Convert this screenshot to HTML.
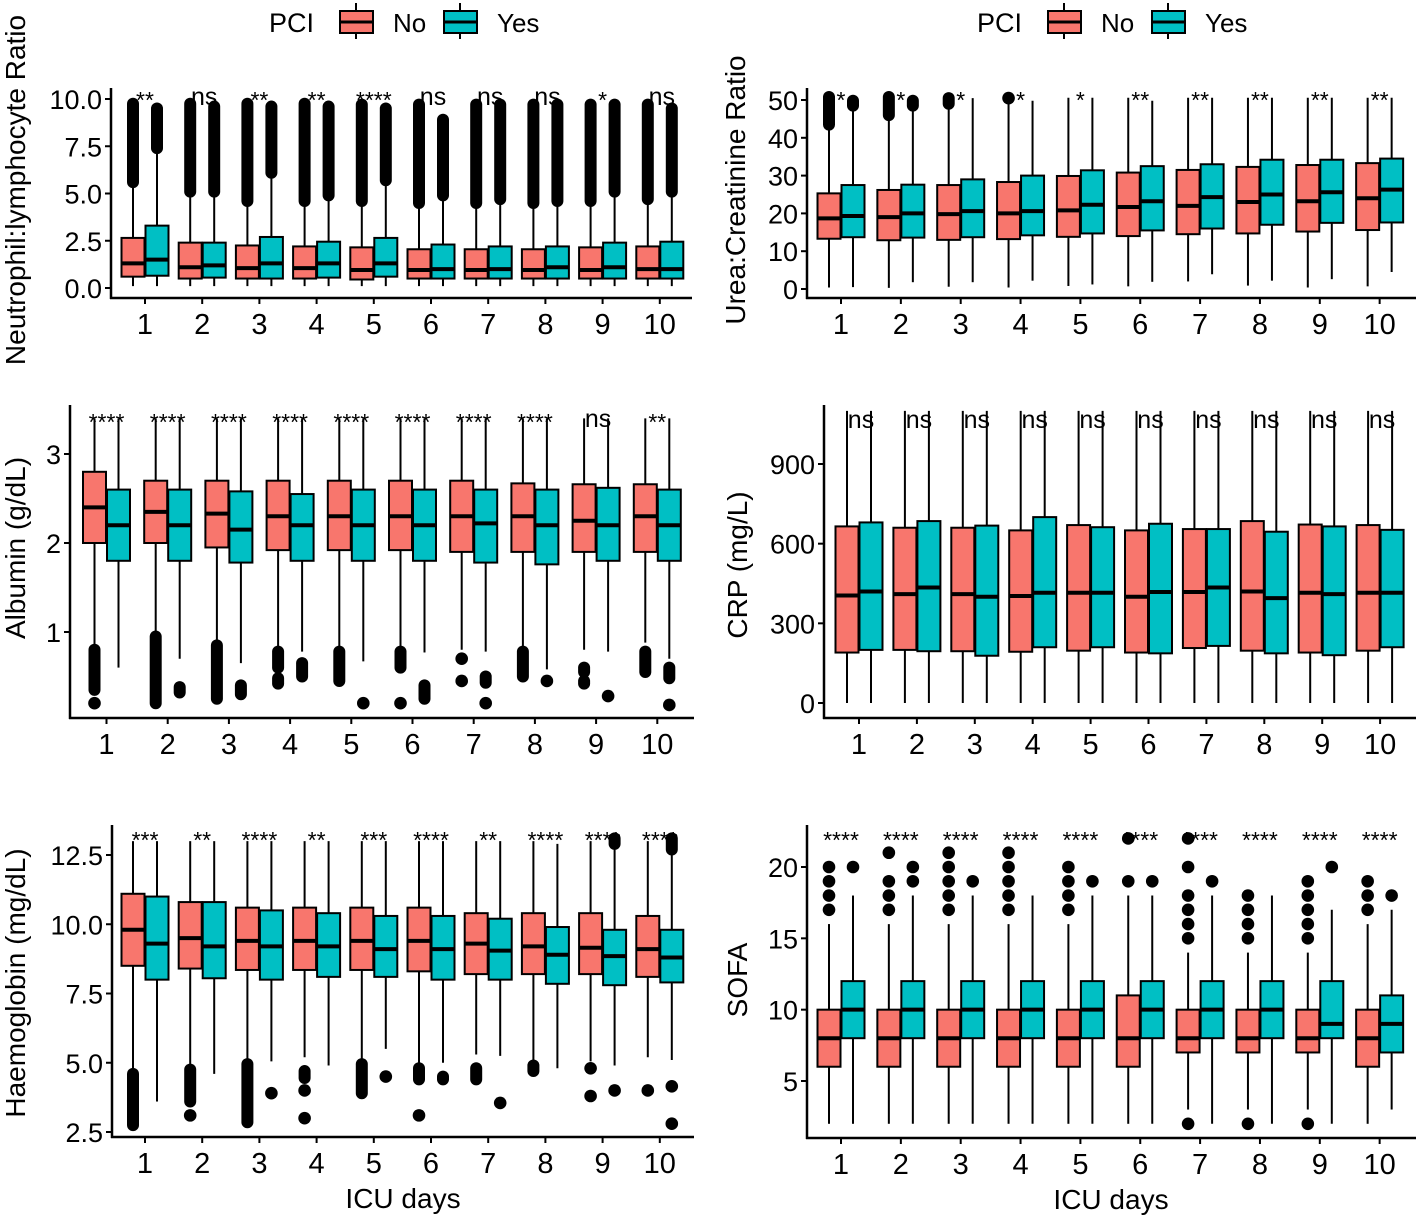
<!DOCTYPE html>
<html><head><meta charset="utf-8"><style>
html,body{margin:0;padding:0;background:#fff;}
svg{display:block;font-family:"Liberation Sans",Arial,sans-serif;}
</style></head><body>
<svg id="chart" width="1418" height="1218" viewBox="0 0 1418 1218" xmlns="http://www.w3.org/2000/svg">
<g>
  <text x="269" y="32" font-size="27">PCI</text>
  <g>
    <line x1="356" y1="3" x2="356" y2="39" stroke="#000" stroke-width="2"/>
    <rect x="340" y="11" width="33" height="22" fill="#F8766D" stroke="#000" stroke-width="2"/>
    <line x1="340" y1="22" x2="373" y2="22" stroke="#000" stroke-width="3"/>
    <text x="393" y="32" font-size="26">No</text>
  </g>
  <g>
    <line x1="460" y1="3" x2="460" y2="39" stroke="#000" stroke-width="2"/>
    <rect x="444" y="11" width="33" height="22" fill="#00BFC4" stroke="#000" stroke-width="2"/>
    <line x1="444" y1="22" x2="477" y2="22" stroke="#000" stroke-width="3"/>
    <text x="497" y="32" font-size="26">Yes</text>
  </g>
</g>
<g>
  <text x="977" y="32" font-size="27">PCI</text>
  <g>
    <line x1="1064" y1="3" x2="1064" y2="39" stroke="#000" stroke-width="2"/>
    <rect x="1048" y="11" width="33" height="22" fill="#F8766D" stroke="#000" stroke-width="2"/>
    <line x1="1048" y1="22" x2="1081" y2="22" stroke="#000" stroke-width="3"/>
    <text x="1101" y="32" font-size="26">No</text>
  </g>
  <g>
    <line x1="1168" y1="3" x2="1168" y2="39" stroke="#000" stroke-width="2"/>
    <rect x="1152" y="11" width="33" height="22" fill="#00BFC4" stroke="#000" stroke-width="2"/>
    <line x1="1152" y1="22" x2="1185" y2="22" stroke="#000" stroke-width="3"/>
    <text x="1205" y="32" font-size="26">Yes</text>
  </g>
</g>
</svg>
<script>
const days = ["1","2","3","4","5","6","7","8","9","10"];

// Neutrophil:lymphocyte ratio  [lo, q1, median, q3, hi]
const nlrNo = [[0.1,0.6,1.3,2.65,5.5],[0.1,0.5,1.1,2.4,5.0],[0.1,0.5,1.05,2.25,4.5],[0.1,0.5,1.05,2.2,4.5],[0.1,0.45,0.95,2.15,4.5],[0.1,0.5,0.95,2.05,4.4],[0.1,0.5,0.95,2.05,4.4],[0.1,0.5,0.95,2.05,4.4],[0.1,0.5,0.95,2.15,4.5],[0.1,0.5,1.0,2.2,4.6]];
const nlrYes = [[0.1,0.65,1.5,3.3,7.3],[0.1,0.55,1.2,2.4,5.0],[0.1,0.5,1.3,2.7,6.0],[0.1,0.55,1.3,2.45,4.8],[0.1,0.6,1.3,2.65,5.6],[0.1,0.5,1.0,2.3,4.8],[0.1,0.5,1.0,2.2,4.6],[0.1,0.5,1.1,2.2,4.5],[0.1,0.5,1.1,2.4,5.0],[0.1,0.5,1.0,2.45,5.0]];
const nlrNoOut = [[[5.6,9.75]],[[5.1,9.75]],[[4.6,9.75]],[[4.6,9.75]],[[4.6,9.7]],[[4.5,9.7]],[[4.5,9.7]],[[4.5,9.7]],[[4.6,9.7]],[[4.7,9.7]]];
const nlrYesOut = [[[7.4,9.5]],[[5.1,9.6]],[[6.1,9.6]],[[4.9,9.6]],[[5.7,9.5]],[[4.9,8.9]],[[4.7,9.7]],[[4.6,9.7]],[[5.1,9.7]],[[5.1,9.5]]];
const nlrSig = ["**","ns","**","**","****","ns","ns","ns","*","ns"];
const nlrTicks = [0,2.5,5,7.5,10];
const nlrTickLabels = ["0.0","2.5","5.0","7.5","10.0"];

// Urea:Creatinine ratio
const ucrNo = [[0.4,13.3,18.7,25.3,43],[0.3,12.9,19,26.2,45.5],[0.6,13,19.8,27.5,48.5],[0.4,13.2,20,28.3,49.5],[0.8,13.8,20.8,29.9,50.6],[0.7,14,21.7,30.8,50.6],[2,14.5,22,31.5,50.6],[0.9,14.7,23,32.3,50.6],[0.4,15.2,23.2,32.8,50.6],[0.7,15.6,24,33.3,50.6]];
const ucrYes = [[0.5,13.7,19.3,27.5,47.5],[1.8,13.6,20,27.6,47.5],[1.8,13.7,20.6,29,50.5],[2.2,14.2,20.6,30,49.8],[1.2,14.7,22.3,31.4,50.6],[1.9,15.5,23.2,32.5,49.8],[3.9,16,24.3,33,50.6],[2.2,17,25,34.2,50.6],[2.6,17.5,25.6,34.2,50.6],[4.5,17.6,26.3,34.5,50.6]];
const ucrNoOut = [[[43.5,50.8]],[[46,50.8]],[[49,50.5]],[[50.5,50.5]],[],[],[],[],[],[]];
const ucrYesOut = [[[48.5,49.8]],[[48.5,49.8]],[],[],[],[],[],[],[],[]];
const ucrSig = ["*","*","*","*","*","**","**","**","**","**"];
const ucrTicks = [0,10,20,30,40,50];
const ucrTickLabels = ["0","10","20","30","40","50"];

// Albumin
const albNo = [[0.85,2.0,2.4,2.8,3.4],[1.0,2.0,2.35,2.7,3.4],[0.9,1.95,2.33,2.7,3.4],[0.82,1.92,2.3,2.7,3.4],[0.82,1.92,2.3,2.7,3.4],[0.82,1.92,2.3,2.7,3.4],[0.8,1.9,2.3,2.7,3.4],[0.82,1.9,2.3,2.67,3.4],[0.8,1.9,2.25,2.66,3.4],[0.88,1.9,2.3,2.66,3.4]];
const albYes = [[0.6,1.8,2.2,2.6,3.4],[0.7,1.8,2.2,2.6,3.4],[0.65,1.78,2.15,2.58,3.4],[0.78,1.8,2.2,2.55,3.4],[0.67,1.8,2.2,2.6,3.4],[0.77,1.8,2.2,2.6,3.4],[0.78,1.78,2.22,2.6,3.4],[0.58,1.76,2.2,2.6,3.4],[0.78,1.8,2.2,2.62,3.4],[0.7,1.8,2.2,2.6,3.4]];
const albNoOut = [[[0.35,0.8],[0.2,0.2]],[[0.2,0.95]],[[0.25,0.85]],[[0.6,0.78],[0.42,0.48]],[[0.45,0.78]],[[0.6,0.78],[0.2,0.2]],[[0.7,0.7],[0.45,0.45]],[[0.5,0.78]],[[0.55,0.6],[0.42,0.45]],[[0.55,0.78]]];
const albYesOut = [[],[[0.32,0.38]],[[0.3,0.4]],[[0.5,0.65]],[[0.2,0.2]],[[0.25,0.4]],[[0.43,0.5],[0.2,0.2]],[[0.45,0.45]],[[0.28,0.28]],[[0.48,0.6],[0.18,0.18]]];
const albSig = ["****","****","****","****","****","****","****","****","ns","**"];
const albTicks = [1,2,3];
const albTickLabels = ["1","2","3"];

// CRP
const crpNo = [[0,190,405,665,1100],[0,200,410,660,1100],[0,195,410,660,1100],[0,193,403,650,1100],[0,197,415,670,1100],[0,190,400,650,1100],[0,207,418,655,1100],[0,197,420,685,1100],[0,190,415,672,1100],[0,197,415,670,1100]];
const crpYes = [[0,200,420,680,1100],[0,195,435,685,1100],[0,178,400,668,1100],[0,210,415,700,1100],[0,210,415,662,1100],[0,187,418,675,1100],[0,215,435,655,1100],[0,187,395,645,1100],[0,180,410,665,1100],[0,210,415,652,1100]];
const crpSig = ["ns","ns","ns","ns","ns","ns","ns","ns","ns","ns"];
const crpTicks = [0,300,600,900];
const crpTickLabels = ["0","300","600","900"];

// Haemoglobin
const hbNo = [[4.6,8.5,9.8,11.1,13.0],[4.8,8.4,9.5,10.8,13.0],[5.0,8.35,9.4,10.6,13.0],[5.2,8.35,9.4,10.6,13.0],[5.1,8.35,9.4,10.6,13.0],[5.0,8.3,9.4,10.6,13.0],[5.3,8.2,9.3,10.4,13.0],[5.1,8.2,9.2,10.4,13.0],[5.05,8.2,9.15,10.4,13.0],[5.2,8.1,9.1,10.3,13.0]];
const hbYes = [[3.6,8.0,9.3,11.0,13.0],[4.6,8.05,9.2,10.8,13.0],[5.05,8.0,9.2,10.5,13.0],[4.9,8.1,9.2,10.4,13.0],[5.5,8.1,9.1,10.3,13.0],[5.0,8.0,9.1,10.3,13.0],[5.25,8.0,9.05,10.2,13.0],[4.8,7.85,8.9,9.9,12.9],[4.9,7.8,8.85,9.8,12.8],[5.1,7.9,8.8,9.8,12.6]];
const hbNoOut = [[[2.75,4.6]],[[3.6,4.75],[3.1,3.1]],[[2.85,4.95]],[[4.45,4.7],[4.0,4.0],[3.0,3.0]],[[3.9,4.95]],[[4.4,4.8],[3.1,3.1]],[[4.4,4.8]],[[4.7,4.9]],[[4.8,4.8],[3.8,3.8]],[[4.0,4.0]]];
const hbYesOut = [[],[],[[3.9,3.9]],[],[[4.5,4.5]],[[4.4,4.5]],[[3.55,3.55]],[],[[4.0,4.0],[12.9,13.1]],[[4.15,4.15],[2.8,2.8],[12.7,13.1]]];
const hbSig = ["***","**","****","**","***","****","**","****","****","****"];
const hbTicks = [2.5,5,7.5,10,12.5];
const hbTickLabels = ["2.5","5.0","7.5","10.0","12.5"];

// SOFA
const sofaNo = [[2,6,8,10,16],[2,6,8,10,16],[2,6,8,10,16],[2,6,8,10,16],[2,6,8,10,16],[2,6,8,11,18],[3,7,8,10,14],[3,7,8,10,14],[3,7,8,10,14],[2,6,8,10,16]];
const sofaYes = [[2,8,10,12,18],[2,8,10,12,18],[2,8,10,12,18],[2,8,10,12,18],[2,8,10,12,18],[2,8,10,12,18],[2,8,10,12,18],[2,8,10,12,18],[2,8,9,12,17],[3,7,9,11,17]];
const sofaNoOut = [[[17,17],[18,18],[19,19],[20,20]],[[17,17],[18,18],[19,19],[21,21]],[[17,17],[18,18],[19,19],[20,20],[21,21]],[[17,17],[18,18],[19,19],[20,20],[21,21]],[[17,17],[18,18],[19,19],[20,20]],[[19,19],[22,22]],[[15,15],[16,16],[17,17],[18,18],[20,20],[22,22],[2,2]],[[15,15],[16,16],[17,17],[18,18],[2,2]],[[15,15],[16,16],[17,17],[18,18],[19,19],[2,2]],[[17,17],[18,18],[19,19]]];
const sofaYesOut = [[[20,20]],[[19,19],[20,20]],[[19,19]],[],[[19,19]],[[19,19]],[[19,19]],[],[[20,20]],[[18,18]]];
const sofaSig = ["****","****","****","****","****","****","****","****","****","****"];
const sofaTicks = [5,10,15,20];
const sofaTickLabels = ["5","10","15","20"];

const NS = "http://www.w3.org/2000/svg";
const svg = document.getElementById("chart");
function mk(tag, attrs, parent){
  const e = document.createElementNS(NS, tag);
  for (const k in attrs) e.setAttribute(k, attrs[k]);
  (parent || svg).appendChild(e);
  return e;
}

function panel(cfg){
  const g = mk("g", {});
  
  
  const yS = v => cfg.py0 + (v - cfg.v0) * (cfg.py1 - cfg.py0) / (cfg.v1 - cfg.v0);
  const xS = i => cfg.c1 + i * cfg.sp;
  const bw = 23, off = 12;
  const yt = mk("text", {x: cfg.ylx, y: cfg.yly, "font-size": 28, "text-anchor": "middle", transform: `rotate(-90 ${cfg.ylx} ${cfg.yly})`}, g);
  yt.textContent = cfg.ylabel;
  
  
  cfg.ticks.forEach((t, k) => {
    const y = yS(t);
    const tk = mk("line", {x1: cfg.ax - 6, x2: cfg.ax, y1: y, y2: y, stroke: "#000", "stroke-width": 2}, g);
    
    
    const tl = mk("text", {x: cfg.ax - 9, y: y + 10, "font-size": 27, "text-anchor": "end", fill: "#000"}, g);
    tl.textContent = cfg.tickLabels[k];
    
    
  });
  function box(i, st, outs, fill, dx, nm){
    const bg = mk("g", {}, g);
    
    
    const cx = xS(i) + dx;
    mk("line", {x1: cx, x2: cx, y1: yS(st[0]), y2: yS(st[1]), stroke: "#000", "stroke-width": 2}, bg);
    mk("line", {x1: cx, x2: cx, y1: yS(st[3]), y2: yS(st[4]), stroke: "#000", "stroke-width": 2}, bg);
    mk("rect", {x: cx - bw/2, y: yS(st[3]), width: bw, height: yS(st[1]) - yS(st[3]), fill: fill, stroke: "#000", "stroke-width": 2}, bg);
    mk("line", {x1: cx - bw/2, x2: cx + bw/2, y1: yS(st[2]), y2: yS(st[2]), stroke: "#000", "stroke-width": 4}, bg);
    (outs || []).forEach(o => {
      if (o[0] === o[1]) mk("circle", {cx: cx, cy: yS(o[0]), r: 6.3, fill: "#000"}, bg);
      else mk("line", {x1: cx, x2: cx, y1: yS(o[0]), y2: yS(o[1]), stroke: "#000", "stroke-width": 12, "stroke-linecap": "round"}, bg);
    });
  }
  days.forEach((d, i) => {
    box(i, cfg.no[i], cfg.noOut ? cfg.noOut[i] : [], "#F8766D", -off, "box-no");
    box(i, cfg.yes[i], cfg.yesOut ? cfg.yesOut[i] : [], "#00BFC4", off, "box-yes");
    const s = cfg.sig[i];
    const st = mk("text", {x: xS(i) + (s === "ns" ? 2 : 0), y: s === "ns" ? cfg.sigY + 2 : cfg.sigY + 5, "font-size": s === "ns" ? 25 : 23, "text-anchor": "middle", fill: "#000"}, g);
    st.textContent = s;
    
    
    const xt = mk("line", {x1: xS(i), x2: xS(i), y1: cfg.base, y2: cfg.base + 6, stroke: "#000", "stroke-width": 2}, g);
    
    
    const xl = mk("text", {x: xS(i), y: cfg.base + 36, "font-size": 29, "text-anchor": "middle", fill: "#000"}, g);
    xl.textContent = d;
    
    
  });
  const ya = mk("line", {x1: cfg.ax, x2: cfg.ax, y1: cfg.top, y2: cfg.base + 1, stroke: "#000", "stroke-width": 2.5}, g);
  
  
  const xa = mk("line", {x1: cfg.ax - 1, x2: cfg.right, y1: cfg.base, y2: cfg.base, stroke: "#000", "stroke-width": 2.5}, g);
  
  
  if (cfg.xlabel) {
    const xt = mk("text", {x: cfg.xlx, y: cfg.base + 71, "font-size": 28, "text-anchor": "middle"}, g);
    xt.textContent = cfg.xlabel;
    
    
  }
}

panel({name:"nlr-panel", ax:111, right:692, top:88, base:298, c1:145, sp:57.2, v0:0, py0:288, v1:10, py1:99,
  ticks:nlrTicks, tickLabels:nlrTickLabels, no:nlrNo, yes:nlrYes, noOut:nlrNoOut, yesOut:nlrYesOut, sig:nlrSig, sigY:103,
  ylabel:"Neutrophil:lymphocyte Ratio", ylx:25, yly:190});
panel({name:"urea-creatinine-panel", ax:807, right:1416, top:88, base:298, c1:841, sp:59.85, v0:0, py0:289, v1:50, py1:100,
  ticks:ucrTicks, tickLabels:ucrTickLabels, no:ucrNo, yes:ucrYes, noOut:ucrNoOut, yesOut:ucrYesOut, sig:ucrSig, sigY:103,
  ylabel:"Urea:Creatinine Ratio", ylx:745, yly:190});
panel({name:"albumin-panel", ax:70, right:694, top:405, base:718, c1:106.5, sp:61.2, v0:1, py0:632, v1:3, py1:454,
  ticks:albTicks, tickLabels:albTickLabels, no:albNo, yes:albYes, noOut:albNoOut, yesOut:albYesOut, sig:albSig, sigY:425,
  ylabel:"Albumin (g/dL)", ylx:25, yly:548});
panel({name:"crp-panel", ax:824, right:1416, top:405, base:718, c1:859, sp:57.9, v0:0, py0:703, v1:900, py1:464,
  ticks:crpTicks, tickLabels:crpTickLabels, no:crpNo, yes:crpYes, sig:crpSig, sigY:426,
  ylabel:"CRP (mg/L)", ylx:747, yly:565});
panel({name:"haemoglobin-panel", ax:112, right:694, top:825, base:1137, c1:145, sp:57.2, v0:2.5, py0:1132, v1:12.5, py1:855,
  ticks:hbTicks, tickLabels:hbTickLabels, no:hbNo, yes:hbYes, noOut:hbNoOut, yesOut:hbYesOut, sig:hbSig, sigY:843,
  ylabel:"Haemoglobin (mg/dL)", ylx:25, yly:983, xlabel:"ICU days", xlx:403});
panel({name:"sofa-panel", ax:807, right:1416, top:825, base:1138, c1:841, sp:59.85, v0:5, py0:1081, v1:20, py1:867,
  ticks:sofaTicks, tickLabels:sofaTickLabels, no:sofaNo, yes:sofaYes, noOut:sofaNoOut, yesOut:sofaYesOut, sig:sofaSig, sigY:843,
  ylabel:"SOFA", ylx:747, yly:980, xlabel:"ICU days", xlx:1111});
</script>
</body></html>
